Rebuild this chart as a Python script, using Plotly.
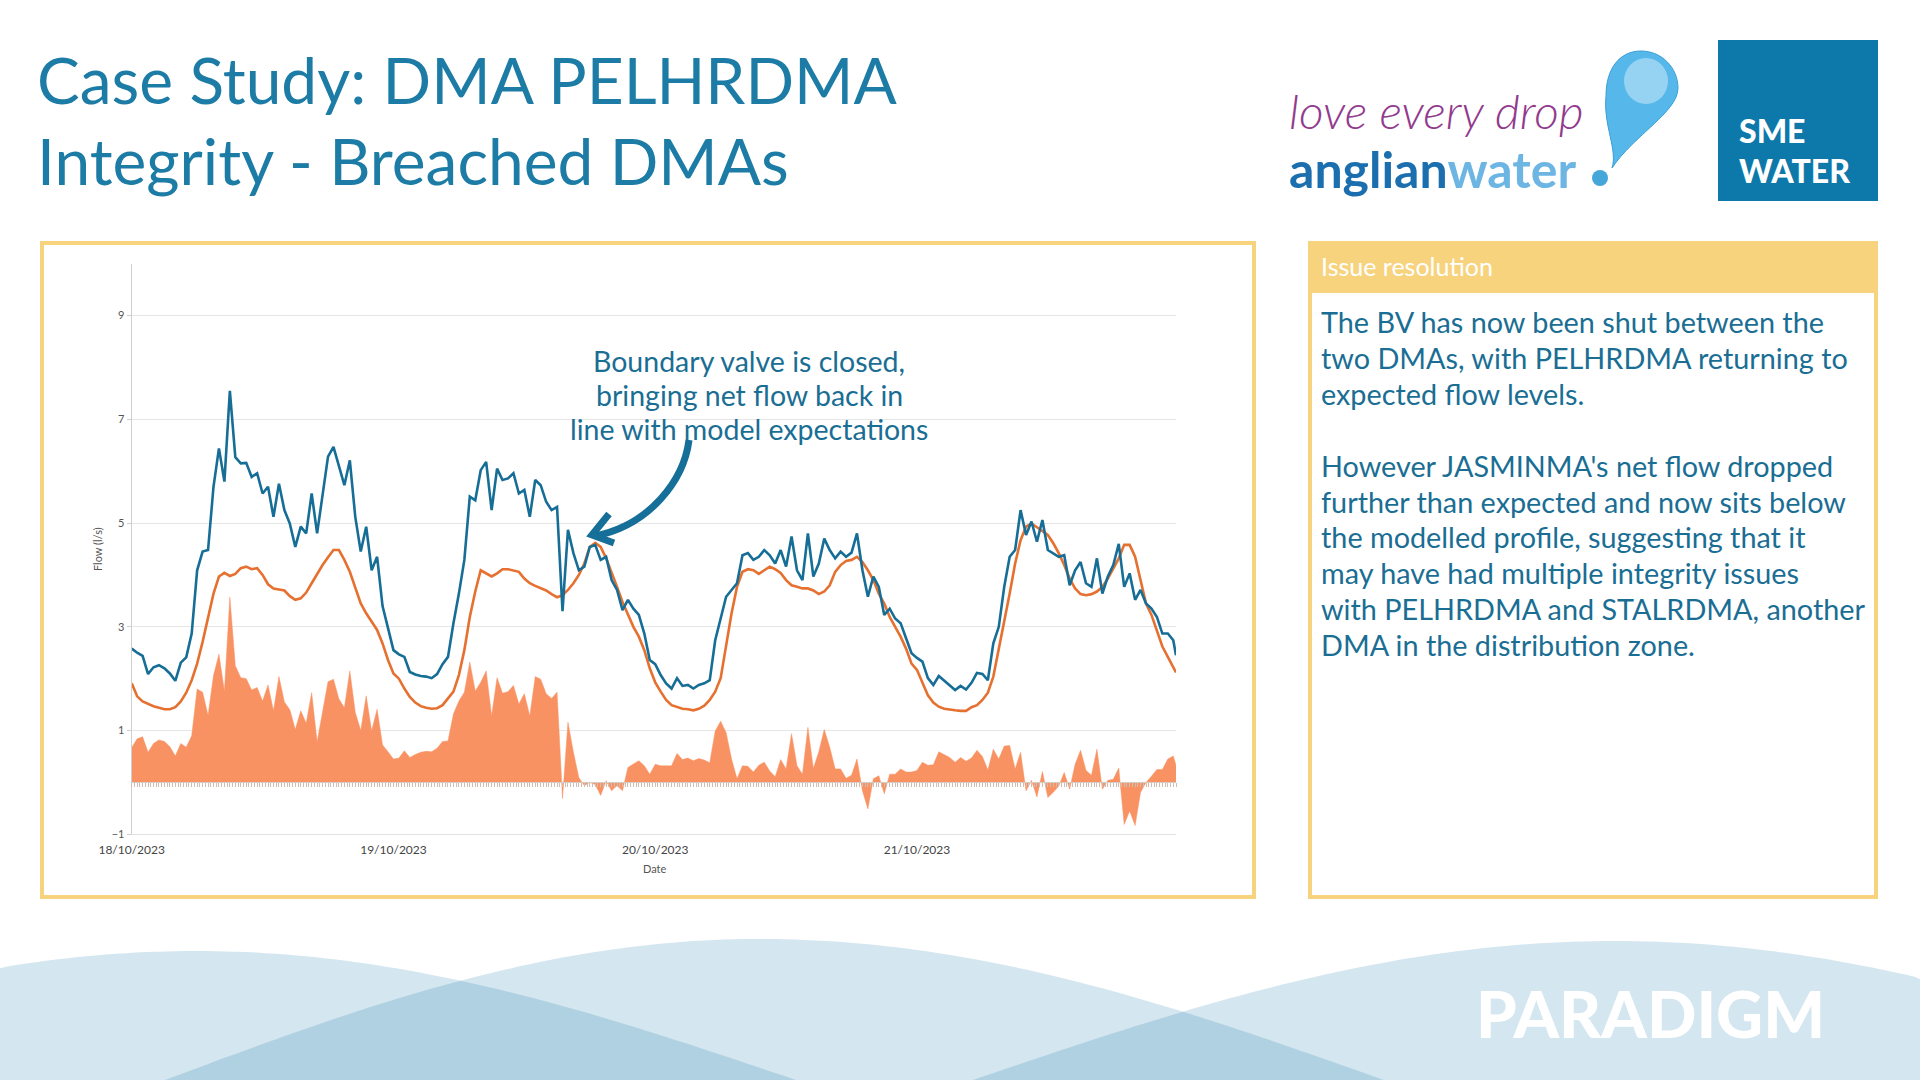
import math
import pandas as pd
import plotly.graph_objects as go

W, H = 1920, 1080

# ---------------- data ----------------
START = "2023-10-18 00:00"
STEP_MIN = 30

# Measured net flow (l/s), half-hourly, 18/10/2023 00:00 -> 21/10/2023 23:45
measured_flow = [
    # 18/10
    2.58, 2.50, 2.44, 2.09, 2.22, 2.26, 2.20, 2.10, 1.96, 2.31,
    2.41, 2.87, 4.09, 4.45, 4.48, 5.70, 6.44, 5.80, 7.55, 6.27,
    6.15, 6.16, 5.89, 5.96, 5.57, 5.70, 5.12, 5.76, 5.25, 4.99,
    4.54, 4.93, 4.80, 5.57, 4.80, 5.57, 6.28, 6.47, 6.09, 5.73,
    6.21, 5.12, 4.45, 4.93, 4.09, 4.35, 3.40, 2.95,
    # 19/10
    2.55, 2.47, 2.42, 2.13, 2.08, 2.05, 2.04, 2.01, 2.09, 2.28,
    2.42, 3.07, 3.64, 4.29, 5.51, 5.44, 6.02, 6.18, 5.25, 6.05,
    5.83, 5.86, 5.96, 5.57, 5.64, 5.12, 5.83, 5.73, 5.41, 5.25,
    5.31, 3.30, 4.87, 4.42, 4.09, 4.16, 4.54, 4.58, 4.29, 4.35,
    3.90, 3.71, 3.32, 3.52, 3.35, 3.23, 2.87, 2.36,
    # 20/10
    2.28, 2.07, 1.91, 1.81, 2.01, 1.86, 1.88, 1.81, 1.88, 1.91,
    1.97, 2.74, 3.19, 3.58, 3.71, 3.84, 4.38, 4.42, 4.29, 4.35,
    4.48, 4.38, 4.22, 4.48, 4.16, 4.74, 4.09, 3.90, 4.80, 3.97,
    4.22, 4.70, 4.48, 4.32, 4.45, 4.35, 4.43, 4.80, 4.09, 3.58,
    3.97, 3.77, 3.23, 3.35, 3.16, 3.07, 2.78, 2.49,
    # 21/10
    2.40, 2.33, 2.01, 1.88, 2.05, 1.96, 1.88, 1.78, 1.86, 1.79,
    1.92, 2.11, 2.09, 1.97, 2.68, 3.00, 3.77, 4.35, 4.48, 5.25,
    4.77, 5.03, 4.64, 5.06, 4.48, 4.42, 4.35, 4.38, 3.80, 4.09,
    4.25, 3.84, 3.77, 4.32, 3.64, 3.97, 4.19, 4.60, 3.77, 4.03,
    3.52, 3.71, 3.45, 3.35, 3.19, 2.87, 2.87, 2.74,
    2.45,
]

# Modelled flow profile (l/s)
model_flow = [
    # 18/10
    1.91, 1.66, 1.56, 1.51, 1.47, 1.44, 1.41, 1.41, 1.45, 1.56,
    1.73, 1.97, 2.29, 2.71, 3.19, 3.64, 3.97, 4.04, 3.98, 4.02,
    4.13, 4.16, 4.11, 4.13, 4.00, 3.82, 3.74, 3.72, 3.70, 3.59,
    3.52, 3.55, 3.66, 3.84, 4.02, 4.19, 4.34, 4.48, 4.48, 4.29,
    4.06, 3.77, 3.45, 3.26, 3.10, 2.94, 2.68, 2.36,
    # 19/10
    2.10, 2.00, 1.81, 1.65, 1.54, 1.47, 1.44, 1.42, 1.43, 1.49,
    1.62, 1.75, 2.07, 2.55, 3.19, 3.68, 4.09, 4.03, 3.97, 4.03,
    4.11, 4.11, 4.09, 4.06, 3.93, 3.84, 3.79, 3.74, 3.70, 3.63,
    3.57, 3.61, 3.71, 3.84, 4.00, 4.22, 4.54, 4.62, 4.54, 4.32,
    4.06, 3.77, 3.48, 3.23, 3.00, 2.81, 2.55, 2.20,
    # 20/10
    1.93, 1.75, 1.59, 1.49, 1.45, 1.42, 1.41, 1.39, 1.42, 1.48,
    1.59, 1.75, 2.01, 2.62, 3.26, 3.77, 4.06, 4.11, 4.09, 4.02,
    4.09, 4.16, 4.11, 4.04, 3.90, 3.80, 3.77, 3.74, 3.74, 3.70,
    3.63, 3.68, 3.80, 4.06, 4.19, 4.27, 4.29, 4.35, 4.25, 4.09,
    3.90, 3.64, 3.45, 3.19, 3.00, 2.81, 2.58, 2.29,
    # 21/10
    2.17, 1.94, 1.68, 1.54, 1.46, 1.42, 1.40, 1.39, 1.38, 1.38,
    1.45, 1.49, 1.59, 1.73, 2.04, 2.55, 3.07, 3.64, 4.22, 4.67,
    4.93, 4.99, 4.92, 4.85, 4.77, 4.61, 4.42, 4.19, 3.93, 3.74,
    3.63, 3.61, 3.63, 3.68, 3.77, 3.93, 4.13, 4.32, 4.58, 4.58,
    4.35, 3.90, 3.45, 3.23, 2.94, 2.62, 2.42, 2.23,
    2.12,
]

start = pd.Timestamp(START)
times = [start + pd.Timedelta(minutes=STEP_MIN * i) for i in range(len(measured_flow) - 1)]
times.append(start + pd.Timedelta(hours=95.75))
# Orange area: net flow above / below the modelled profile
net_vs_model = [m - p for m, p in zip(measured_flow, model_flow)]

x_range = ["2023-10-18 00:00", "2023-10-21 23:45"]
y_range = [-1, 10]

# ---------------- colours / fonts ----------------
TEAL = "#1a6e94"
TITLE = "#1c7ca5"
YELLOW = "#f8d37e"
BLUE_LINE = "#166e96"
ORANGE_LINE = "#e6702f"
ORANGE_AREA = "#f99262"
FONT = "Lato, 'Open Sans', sans-serif"


def PX(x):
    return x / W


def PY(y):
    return 1 - y / H


def pt(x, y):
    return f"{PX(x):.5f},{PY(y):.5f}"


fig = go.Figure()

fig.add_trace(go.Scatter(
    x=times, y=net_vs_model, mode="lines", fill="tozeroy",
    fillcolor=ORANGE_AREA, line=dict(color=ORANGE_AREA, width=0.5),
    hoverinfo="skip", showlegend=False))
fig.add_trace(go.Scatter(
    x=times, y=model_flow, mode="lines",
    line=dict(color=ORANGE_LINE, width=2.6), hoverinfo="skip", showlegend=False))
fig.add_trace(go.Scatter(
    x=times, y=measured_flow, mode="lines",
    line=dict(color=BLUE_LINE, width=2.6), hoverinfo="skip", showlegend=False))
# carrier trace for the hatched zero axis
fig.add_trace(go.Scatter(x=times[:1], y=[None], xaxis="x2", yaxis="y",
                         mode="lines", hoverinfo="skip", showlegend=False))

x_dom = [PX(131.7), PX(1176)]
y_dom = [PY(834.3), PY(263.7)]
zero_pos = PY(834.3) + (0 - y_range[0]) / (y_range[1] - y_range[0]) * (PY(263.7) - PY(834.3))

fig.update_layout(
    width=W, height=H, autosize=False,
    margin=dict(l=0, r=0, t=0, b=0, pad=0, autoexpand=False),
    paper_bgcolor="white", plot_bgcolor="white",
    showlegend=False,
    font=dict(family=FONT),
    xaxis=dict(
        domain=x_dom, type="date", range=x_range, automargin=False,
        tick0="2023-10-18", dtick=86400000, tickformat="%d/%m/%Y",
        showgrid=False, zeroline=False, showline=True, linecolor="#e2e2e2",
        ticks="", ticklabelstandoff=4,
        tickfont=dict(size=12, color="#444444", family=FONT),
        fixedrange=True),
    xaxis2=dict(
        domain=x_dom, type="date", range=x_range, overlaying="x",
        anchor="free", position=zero_pos, side="bottom", automargin=False,
        tick0="2023-10-18", dtick=900000, ticks="outside", ticklen=4,
        tickwidth=1, tickcolor="#cdbdb3", showticklabels=False,
        showgrid=False, zeroline=False, showline=True, linecolor="#d8cbc3",
        fixedrange=True),
    yaxis=dict(
        domain=y_dom, range=y_range, tick0=-1, dtick=2, automargin=False,
        showgrid=True, gridcolor="#e6e6e6", gridwidth=1, zeroline=False,
        showline=True, linecolor="#cfcfcf", ticks="outside", ticklen=4,
        tickcolor="#cfcfcf", tickfont=dict(size=11, color="#555555", family=FONT),
        fixedrange=True),
)

shapes = []

# ---- bottom waves ----
def hill(peak_x, peak_y, hw_l, hw_r, n=120):
    hh = H - peak_y
    pts = []
    for i in range(n + 1):
        x = peak_x - hw_l + (hw_l + hw_r) * i / n
        hw = hw_l if x < peak_x else hw_r
        t = min(abs(x - peak_x) / hw, 1.0)
        y = peak_y + hh * (1 - math.cos(math.pi / 2 * t))
        pts.append(pt(min(max(x, 0), W), y))
    return "M " + " L ".join(pts) + " Z"


for (pk_x, pk_y, hl, hr) in [(196, 951, 600, 600), (759, 939, 594, 625), (1615, 941, 642, 642)]:
    shapes.append(dict(type="path", xref="paper", yref="paper", path=hill(pk_x, pk_y, hl, hr),
                       fillcolor="rgba(2,108,161,0.17)", line=dict(width=0), layer="below"))

# ---- chart panel border ----
shapes.append(dict(type="rect", xref="paper", yref="paper",
                   x0=PX(42), x1=PX(1254), y0=PY(897), y1=PY(243),
                   line=dict(color=YELLOW, width=4)))
# ---- right panel ----
shapes.append(dict(type="rect", xref="paper", yref="paper",
                   x0=PX(1310), x1=PX(1876), y0=PY(293), y1=PY(243),
                   fillcolor=YELLOW, line=dict(width=0)))
shapes.append(dict(type="rect", xref="paper", yref="paper",
                   x0=PX(1310), x1=PX(1876), y0=PY(897), y1=PY(243),
                   line=dict(color=YELLOW, width=4)))
# ---- SME water box ----
shapes.append(dict(type="rect", xref="paper", yref="paper",
                   x0=PX(1718), x1=PX(1878), y0=PY(201), y1=PY(40),
                   fillcolor="#0d78aa", line=dict(width=0)))
# ---- water drop logo ----
drop = ("M " + pt(1612, 168) + " C " + pt(1618, 150) + " " + pt(1603, 125) + " " + pt(1606, 96)
        + " C " + pt(1606, 68) + " " + pt(1620, 51) + " " + pt(1641, 51)
        + " C " + pt(1662, 51) + " " + pt(1678, 68) + " " + pt(1678, 88)
        + " C " + pt(1678, 112) + " " + pt(1634, 135) + " " + pt(1612, 168) + " Z")
shapes.append(dict(type="path", xref="paper", yref="paper", path=drop,
                   fillcolor="#56b8ea", line=dict(color="#3a9fd6", width=1)))
shapes.append(dict(type="circle", xref="paper", yref="paper",
                   x0=PX(1624), x1=PX(1668), y0=PY(104), y1=PY(58),
                   fillcolor="rgba(255,255,255,0.38)", line=dict(width=0)))
shapes.append(dict(type="circle", xref="paper", yref="paper",
                   x0=PX(1592), x1=PX(1608), y0=PY(186), y1=PY(170),
                   fillcolor="#45a6da", line=dict(width=0)))
# ---- callout arrow ----
shapes.append(dict(type="path", xref="paper", yref="paper",
                   path="M " + pt(689, 440) + " C " + pt(684, 480) + " " + pt(650, 525) + " " + pt(595, 536),
                   line=dict(color="#156f98", width=7)))
shapes.append(dict(type="path", xref="paper", yref="paper",
                   path="M " + pt(609, 514) + " L " + pt(592, 535) + " L " + pt(614, 543),
                   line=dict(color="#156f98", width=7)))

fig.update_layout(shapes=shapes)

ann = []


def text(x, y, s, size, color, xanchor="left", weight=None, style=None, angle=0, family=FONT):
    f = dict(size=size, color=color, family=family)
    if weight is not None:
        f["weight"] = weight
    if style is not None:
        f["style"] = style
    ann.append(dict(xref="paper", yref="paper", x=PX(x), y=PY(y), text=s,
                    showarrow=False, xanchor=xanchor, yanchor="middle",
                    textangle=angle, font=f, borderpad=0))


# title
text(36, 79, "Case Study: DMA PELHRDMA", 64, TITLE)
text(36, 160, "Integrity - Breached DMAs", 64, TITLE)

# logos
text(1288, 110, "love every drop", 48, "#923b8e", weight=300, style="italic")
text(1288, 169, "<span style='color:#1c6fae'>anglian</span><span style='color:#6db6e3'>water</span>",
     50, "#1c6fae", weight=700)
text(1738, 131, "SME", 32, "white", weight=900)
text(1738, 170, "WATER", 32, "white", weight=900)

# chart axis titles
text(97, 549, "Flow (l/s)", 11, "#555555", xanchor="center", angle=-90)
text(655, 868, "Date", 11, "#555555", xanchor="center")

# callout text
callout = ["Boundary valve is closed,", "bringing net flow back in", "line with model expectations"]
for i, line in enumerate(callout):
    text(749, 361 + 34.2 * i, line, 28.5, TEAL, xanchor="center")

# right panel
text(1320, 266, "Issue resolution", 25, "white", weight=400)
body = [
    "The BV has now been shut between the",
    "two DMAs, with PELHRDMA returning to",
    "expected flow levels.",
    "",
    "However JASMINMA's net flow dropped",
    "further than expected and now sits below",
    "the modelled profile, suggesting that it",
    "may have had multiple integrity issues",
    "with PELHRDMA and STALRDMA, another",
    "DMA in the distribution zone.",
]
for i, line in enumerate(body):
    if line:
        text(1320, 322 + 35.9 * i, line, 28.8, TEAL)

# footer logo
text(1650, 1013, "PARADIGM", 65, "white", xanchor="center", weight=900)

fig.update_layout(annotations=ann)

fig.write_html(
    "out.html",
    config={"displayModeBar": False},
    post_script="document.body.style.margin='0';document.body.style.overflow='hidden';",
)
